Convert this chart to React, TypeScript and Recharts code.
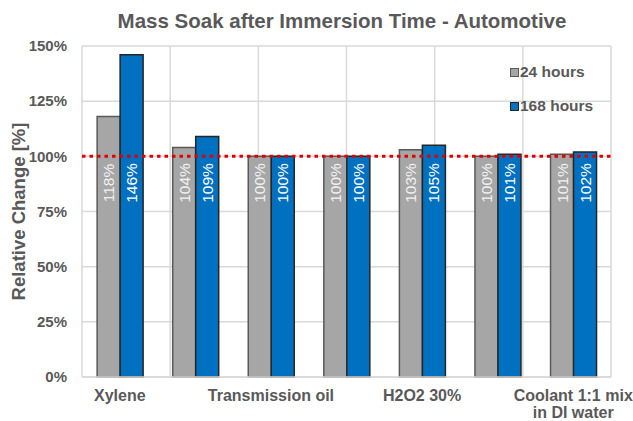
import { BarChart, Bar, XAxis, YAxis, CartesianGrid, ReferenceLine, Legend, LabelList } from 'recharts';

const categories = ['Xylene', '', 'Transmission oil', '', 'H2O2 30%', '', 'Coolant 1:1 mix\nin DI water'];
const hours24 = [1.18, 1.04, 1.0, 1.0, 1.03, 1.0, 1.01];
const hours168 = [1.46, 1.09, 1.0, 1.0, 1.05, 1.01, 1.02];
const yTicks = [0, 0.25, 0.5, 0.75, 1, 1.25, 1.5];
const gridTicks = [0, 1, 2, 3, 4, 5, 6, 7];

const data = categories.map((name, i) => ({ name, h24: hours24[i], h168: hours168[i] }));

const font = '"Liberation Sans", Arial, sans-serif';
const textGray = '#595959';
const pct = (v: number) => Math.round(v * 100) + '%';

function CatTick({ x, y, payload }: any) {
  const lines = String(payload.value).split('\n');
  return (
    <text x={x} y={y + 16} textAnchor="middle" fill={textGray} fontFamily={font} fontSize={16} fontWeight="bold">
      {lines.map((l, i) => (
        <tspan key={i} x={x} dy={i === 0 ? 0 : 17}>
          {l}
        </tspan>
      ))}
    </text>
  );
}

// labels sit at a fixed height above the base, like the original
const barLabel = (fill: string) => (props: any) => {
  const { x, y, width, height, value } = props;
  const cx = x + width / 2;
  const cy = y + height - 194;
  return (
    <text
      x={cx}
      y={cy}
      transform={`rotate(-90 ${cx} ${cy})`}
      textAnchor="middle"
      dominantBaseline="central"
      fill={fill}
      fontFamily={font}
      fontSize={15.5}
    >
      {pct(value)}
    </text>
  );
};

function LegendBox() {
  const row = (fill: string, stroke: string, label: string) => (
    <div style={{ display: 'flex', alignItems: 'center', height: 34 }}>
      <span style={{ width: 7, height: 7, background: fill, border: `1.5px solid ${stroke}`, marginRight: 1 }} />
      <span style={{ fontFamily: font, fontSize: 15.5, fontWeight: 'bold', color: textGray }}>{label}</span>
    </div>
  );
  return (
    <div>
      {row('#a6a6a6', '#595959', '24 hours')}
      {row('#0070c0', '#262626', '168 hours')}
    </div>
  );
}

export default function App() {
  return (
    <div style={{ position: 'absolute', left: 0, top: 0, width: 633, height: 421, background: '#fff' }}>
      <div
        style={{
          position: 'absolute',
          top: 9,
          left: 0,
          width: 684,
          textAlign: 'center',
          fontFamily: font,
          fontSize: 20.5,
          fontWeight: 'bold',
          color: textGray,
        }}
      >
        Mass Soak after Immersion Time - Automotive
      </div>
      <BarChart
        width={633}
        height={421}
        data={data}
        margin={{ top: 46, right: 22, bottom: 0, left: 0 }}
        barCategoryGap="20%"
        barGap={0}
      >
        <CartesianGrid stroke="#d9d9d9" strokeWidth={1.5} xAxisId="grid" />
        <XAxis dataKey="name" height={44} tickLine={false} axisLine={{ stroke: '#d9d9d9', strokeWidth: 1.5 }} interval={0} tick={<CatTick />} />
        <XAxis xAxisId="grid" type="number" domain={[0, 7]} ticks={gridTicks} hide />
        <YAxis
          width={82}
          domain={[0, 1.5]}
          ticks={yTicks}
          tickFormatter={pct}
          axisLine={false}
          tickLine={false}
          tickMargin={9}
          tick={{ fill: textGray, fontFamily: font, fontSize: 15, fontWeight: 'bold' }}
          label={{
            content: ({ viewBox }: any) => {
              const lx = viewBox.x + 18;
              const ly = viewBox.y + viewBox.height / 2;
              return (
                <text
                  x={lx}
                  y={ly}
                  transform={`rotate(-90 ${lx} ${ly})`}
                  textAnchor="middle"
                  dominantBaseline="central"
                  fill={textGray}
                  fontFamily={font}
                  fontSize={18.5}
                  fontWeight="bold"
                >
                  Relative Change [%]
                </text>
              );
            },
          }}
        />
        <Legend
          layout="horizontal"
          verticalAlign="middle"
          align="center"
          content={<LegendBox />}
          wrapperStyle={{ left: 510, top: 55, width: 115, height: 70 }}
        />
        <Bar dataKey="h24" name="24 hours" fill="#a6a6a6" stroke="#595959" strokeWidth={1.5} isAnimationActive={false}>
          <LabelList dataKey="h24" content={barLabel('#f2f2f2')} />
        </Bar>
        <Bar dataKey="h168" name="168 hours" fill="#0070c0" stroke="#262626" strokeWidth={1.5} isAnimationActive={false}>
          <LabelList dataKey="h168" content={barLabel('#ffffff')} />
        </Bar>
        <ReferenceLine y={1} stroke="#e00000" strokeWidth={3} strokeDasharray="3.5 4" />
      </BarChart>
    </div>
  );
}
